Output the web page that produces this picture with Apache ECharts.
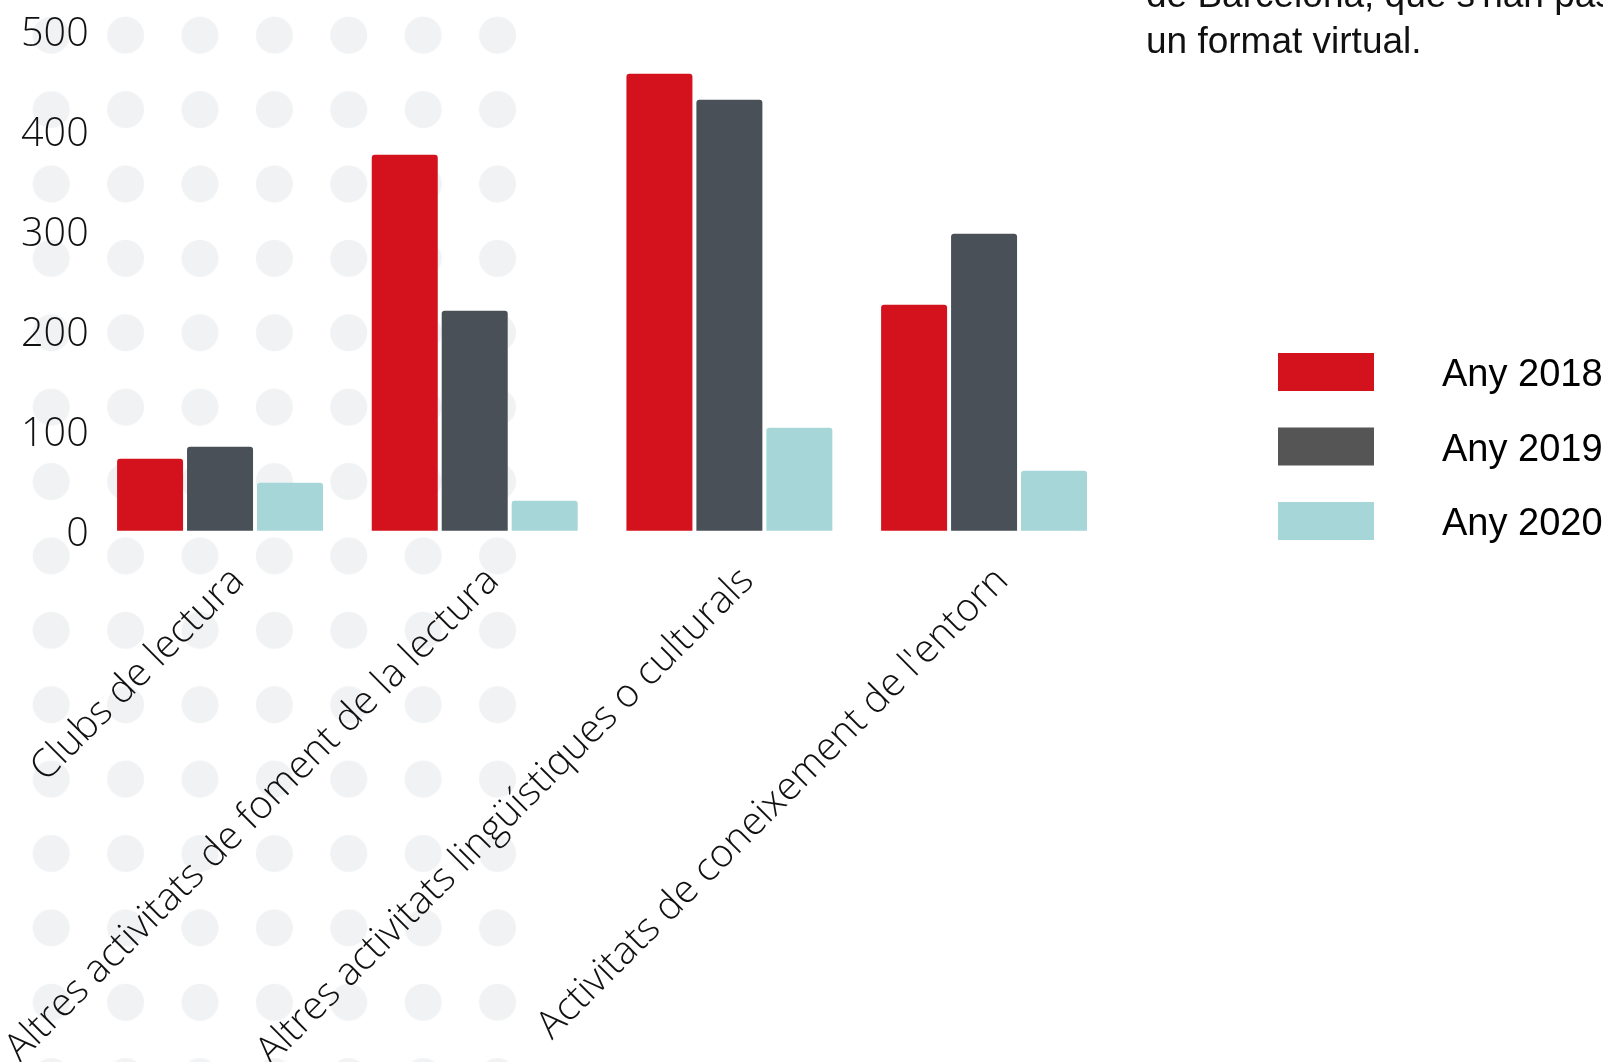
<!DOCTYPE html>
<html>
<head>
<meta charset="utf-8">
<script src="https://cdn.jsdelivr.net/npm/echarts@6/dist/echarts.min.js"></script>
<style>
  html, body { margin: 0; padding: 0; background: #ffffff; }
  #wrap { position: relative; width: 1603px; height: 1062px; overflow: hidden; }
  #dots {
    position: absolute; left: 13.8px; top: -2.2px; width: 520.8px; height: 1100px;
    background-image: radial-gradient(circle at center, #f1f2f4 18px, rgba(241,242,244,0) 19px);
    background-size: 74.4px 74.4px;
  }
  #chart { position: absolute; left: 0; top: 0; width: 1603px; height: 1062px; }
</style>
</head>
<body>
<div id="wrap">
  <div id="dots"></div>
  <div id="chart"></div>
</div>
<script>
const categories = [
  'Clubs de lectura',
  'Altres activitats de foment de la lectura',
  'Altres activitats lingüístiques o culturals',
  "Activitats de coneixement de l'entorn"
];
const seriesNames = ['Any 2018', 'Any 2019', 'Any 2020'];
const values2018 = [72, 376, 457, 226];
const values2019 = [84, 220, 431, 297];
const values2020 = [48, 30, 103, 60];
const yTicks = [0, 100, 200, 300, 400, 500];
const noteLines = ["de Barcelona, que s'han passat a", 'un format virtual.'];

const barColors = ['#d4121d', '#4a5058', '#a7d6d9'];
const legendColors = ['#d4121d', '#555555', '#a7d6d9'];
const allValues = [values2018, values2019, values2020];

const legendCommon = {
  orient: 'vertical',
  left: 1278,
  padding: 0,
  itemWidth: 96,
  itemHeight: 38,
  itemGap: 36.5,
  icon: 'rect',
  selectedMode: false
};

const chart = echarts.init(document.getElementById('chart'), null, { renderer: 'canvas' });
chart.setOption({
  backgroundColor: 'transparent',
  animation: false,
  title: {
    text: noteLines.join('\n'),
    left: 1146,
    top: -26,
    padding: 0,
    textStyle: {
      fontFamily: 'Liberation Sans',
      fontSize: 37,
      fontWeight: 'normal',
      lineHeight: 46,
      color: '#111111'
    }
  },
  legend: [
    Object.assign({}, legendCommon, {
      top: 353,
      data: seriesNames.map((n, i) => ({ name: n, itemStyle: { color: legendColors[i] } })),
      formatter: () => '',
      textStyle: { fontSize: 1 }
    }),
    Object.assign({}, legendCommon, {
      top: 357,
      data: seriesNames.map((n) => ({ name: n, itemStyle: { color: 'rgba(255,255,255,0)', opacity: 0 } })),
      textStyle: {
        fontFamily: 'Liberation Sans',
        fontSize: 38,
        color: '#000000',
        padding: [0, 0, 0, 63]
      }
    })
  ],
  grid: {
    left: 92.7,
    right: 491.6,
    top: 30.7,
    bottom: 531.3,
    containLabel: false,
    outerBoundsMode: 'none'
  },
  xAxis: {
    type: 'category',
    data: categories,
    axisLine: { show: false },
    axisTick: { show: false },
    axisLabel: {
      rotate: 45,
      interval: 0,
      margin: 26,
      verticalAlign: 'top',
      lineHeight: 51,
      fontFamily: 'Open Sans',
      fontWeight: 300,
      fontSize: 39,
      color: '#111111'
    }
  },
  yAxis: {
    type: 'value',
    min: yTicks[0],
    max: yTicks[yTicks.length - 1],
    interval: yTicks[1] - yTicks[0],
    axisLine: { show: false },
    axisTick: { show: false },
    splitLine: { show: false },
    axisLabel: {
      margin: 4,
      verticalAlign: 'top',
      lineHeight: 8,
      fontFamily: 'Open Sans',
      fontWeight: 300,
      fontSize: 39.5,
      color: '#111111'
    }
  },
  series: seriesNames.map((n, i) => ({
    name: n,
    type: 'bar',
    data: allValues[i],
    barWidth: 66,
    barGap: '6%',
    itemStyle: { color: barColors[i], borderRadius: [3, 3, 0, 0] }
  }))
});
</script>
</body>
</html>
